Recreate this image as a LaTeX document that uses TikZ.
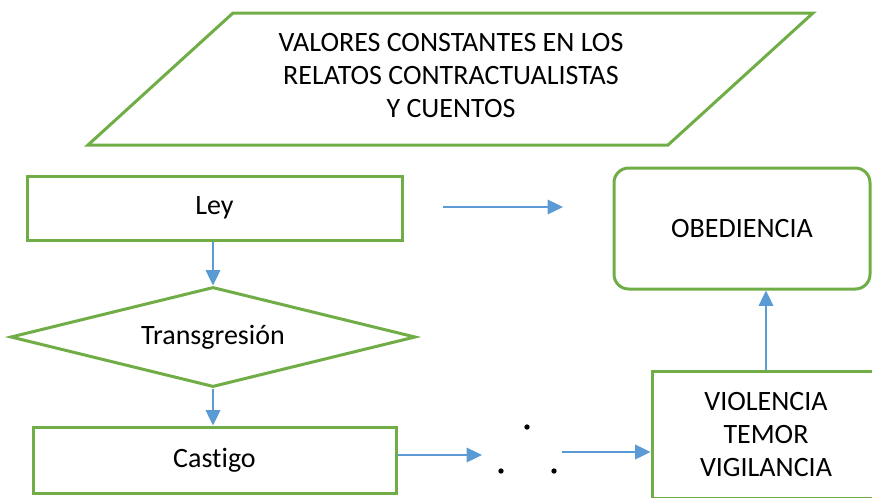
\documentclass[tikz,border=0pt]{standalone}
\usepackage{fontspec}
\setmainfont[Ligatures=NoCommon]{Carlito}
\usetikzlibrary{arrows.meta,shapes.geometric}
\definecolor{marco}{HTML}{70AD47}
\definecolor{flecha}{HTML}{5B9BD5}

\begin{document}
\begin{tikzpicture}[x=0.75pt, y=-0.75pt]
		\tikzset{every node/.style={font=\fontsize{21}{24.6}\selectfont, text=black},
			caja/.style={shape=rectangle, draw=marco, line width=2.25pt, inner sep=0pt},
			decision/.style={shape=diamond, draw=marco, line width=2.25pt, inner sep=0pt, aspect=4},
			flujo/.style={draw=flecha, line width=0.9pt, -{Triangle[length=11.5pt, width=11pt]}}}
		\useasboundingbox (0,0) rectangle (872,497);
		\clip (0,0) rectangle (872,497);
		% parallelogram with title
		\draw[marco, line width=2.25pt, line join=miter] (233,13) -- (813,13) -- (668,145) -- (88,145) -- cycle;
		\node[align=center] (titulo) at (451,75.5) {VALORES CONSTANTES EN LOS\\RELATOS CONTRACTUALISTAS\\Y CUENTOS};
		\node[caja, minimum width=281.25pt, minimum height=48pt] (ley) at (214.5,208) {Ley};
		\node[decision, minimum width=303.75pt, minimum height=75pt] (trans) at (213,337) {Transgresión};
		\node[caja, minimum width=272.25pt, minimum height=49.5pt] (castigo) at (214.5,460) {Castigo};
		\node[caja, rounded corners=11pt, minimum width=192pt, minimum height=90.75pt] (obed) at (742,228.5) {OBEDIENCIA};
		\node[caja, align=center, minimum width=171pt, minimum height=95.25pt] (viol) at (766,434.5) {VIOLENCIA\\TEMOR\\VIGILANCIA};
		% dots
		\foreach \px/\py in {527/427, 501/471, 554/471}
			\fill (\px,\py) circle (2pt);
		\coordinate (a1) at (443,207);
		\coordinate (a2) at (563,207);
		\coordinate (b1) at (482,455);
		\coordinate (c1) at (562,452);
		%edges
		\draw[flujo] (a1) -- (a2);
		\draw[flujo] (ley.south -| trans.north) -- (trans.north);
		\draw[flujo] (trans.south) -- (castigo.north -| trans.south);
		\draw[flujo] (castigo.east |- b1) -- (b1);
		\draw[flujo] (c1) -- (viol.west |- c1);
		\draw[flujo] (viol.north) -- (obed.south -| viol.north);
\end{tikzpicture}
\end{document}
